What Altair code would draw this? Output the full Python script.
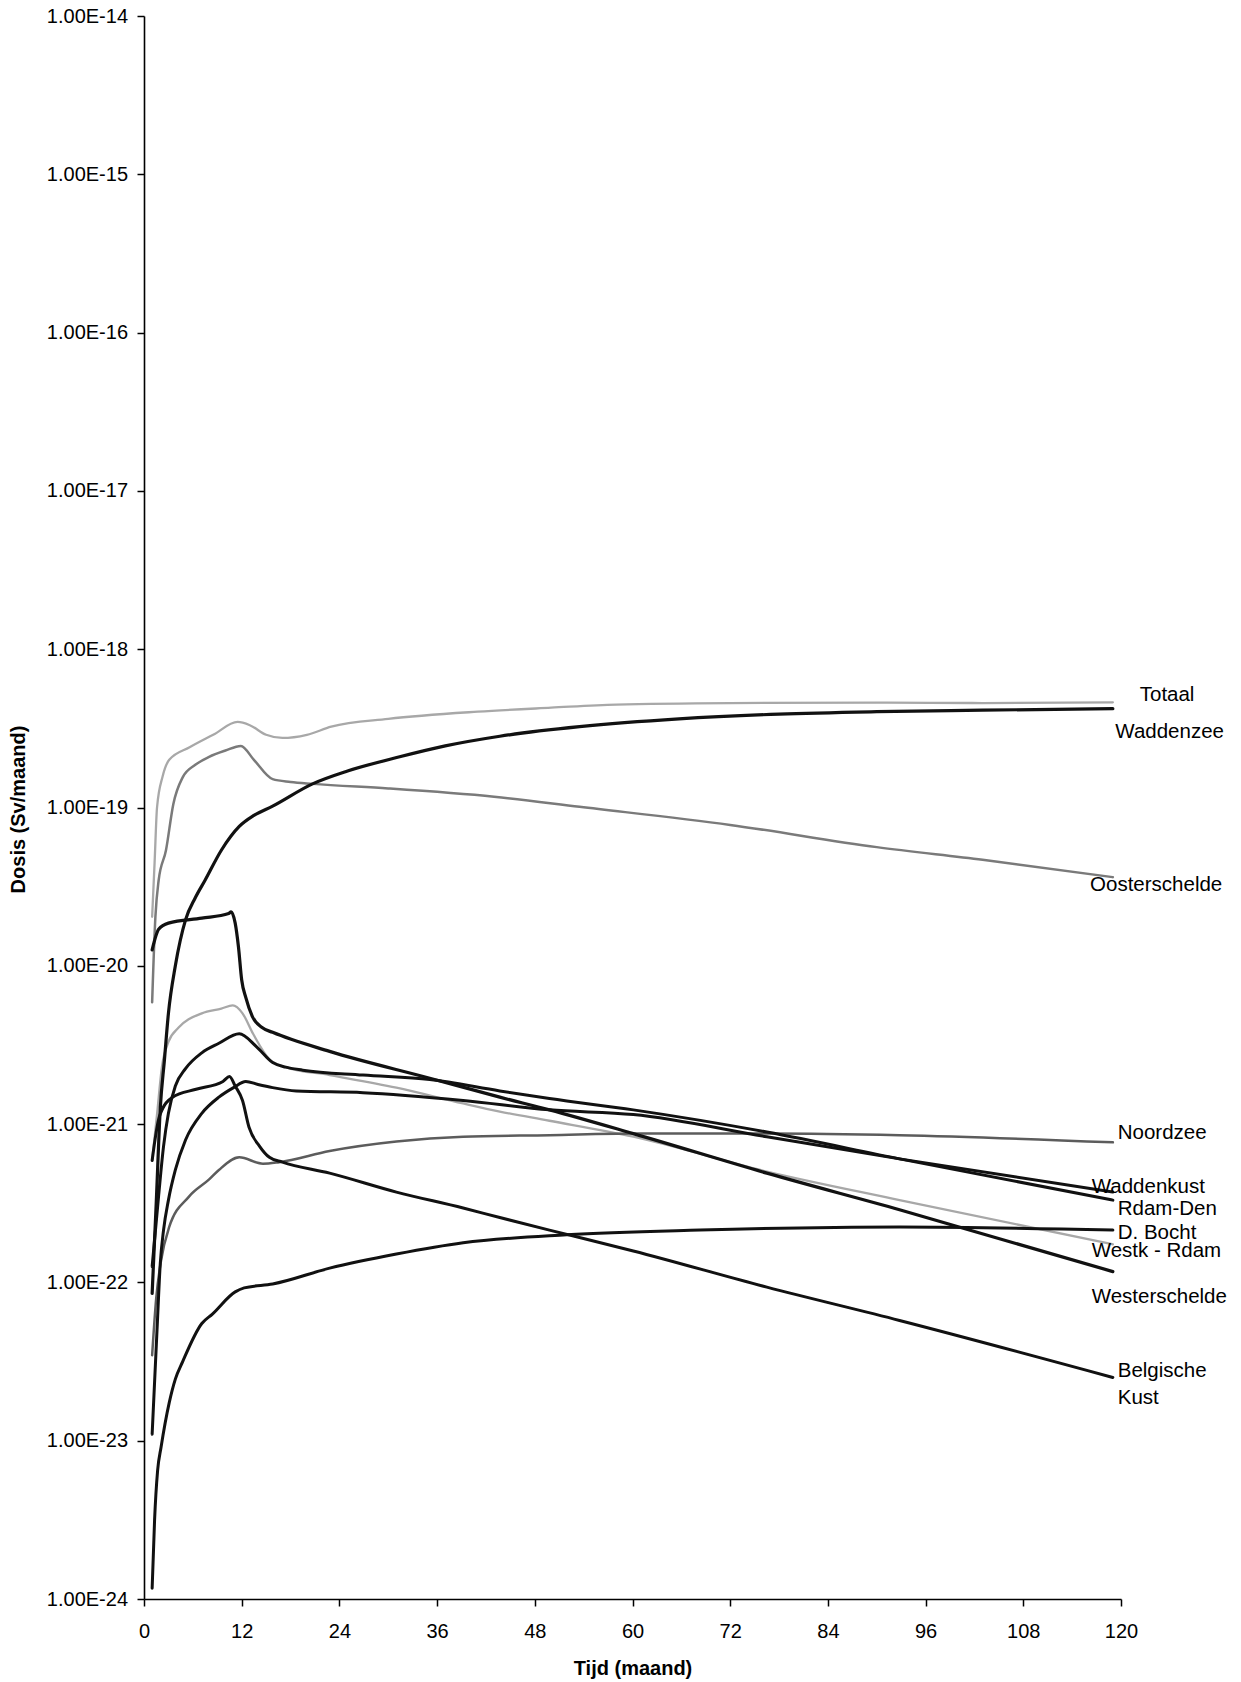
import altair as alt
import pandas as pd

# Dosis per gebied (Sv/maand) tegen de tijd in maanden
totaal_t = [1, 1.3, 1.6, 2.3, 3.1, 5.6, 8.5, 11.5, 13, 15, 17, 20, 23, 30, 41, 50, 58, 72, 90, 103, 119]
totaal_d = [2.04e-20, 4.47e-20, 1.00e-19, 1.58e-19, 2.00e-19, 2.40e-19, 2.88e-19, 3.47e-19, 3.31e-19,
            2.88e-19, 2.75e-19, 2.88e-19, 3.24e-19, 3.63e-19, 4.03e-19, 4.27e-19, 4.47e-19, 4.57e-19,
            4.60e-19, 4.57e-19, 4.62e-19]

waddenzee_t = [1, 1.5, 2.0, 2.5, 3.0, 3.85, 5.1, 6.3, 7.5, 9.5, 11.7, 13.5, 15.8, 20.7, 25, 31.4, 37,
               43.7, 53.5, 65.7, 78, 90, 103, 119]
waddenzee_d = [8.51e-23, 3.16e-22, 1.26e-21, 2.51e-21, 5.01e-21, 1.00e-20, 1.95e-20, 2.69e-20, 3.47e-20,
               5.37e-20, 7.59e-20, 8.91e-20, 1.02e-19, 1.41e-19, 1.70e-19, 2.09e-19, 2.45e-19, 2.82e-19,
               3.24e-19, 3.63e-19, 3.89e-19, 4.03e-19, 4.12e-19, 4.21e-19]

oosterschelde_t = [1, 1.4, 1.8, 2.7, 3.6, 4.75, 6.3, 8, 10, 11.9, 13.5, 15.8, 18, 20.7, 30, 43, 53.5,
                   72, 90, 103, 119]
oosterschelde_d = [5.89e-21, 2.04e-20, 3.47e-20, 5.37e-20, 1.05e-19, 1.55e-19, 1.86e-19, 2.09e-19,
                   2.29e-19, 2.45e-19, 2.00e-19, 1.51e-19, 1.45e-19, 1.41e-19, 1.32e-19, 1.17e-19,
                   1.01e-19, 7.76e-20, 5.62e-20, 4.68e-20, 3.63e-20]

noordzee_t = [1, 1.5, 2.1, 3.1, 5.5, 8.0, 9.2, 11.7, 14.6, 16.6, 22.8, 31, 39.2, 49.8, 60.1, 76.5, 92.8, 119]
noordzee_d = [3.47e-23, 7.94e-23, 1.38e-22, 2.24e-22, 3.47e-22, 4.47e-22, 5.13e-22, 6.17e-22, 5.62e-22,
              5.75e-22, 6.76e-22, 7.76e-22, 8.32e-22, 8.51e-22, 8.71e-22, 8.71e-22, 8.51e-22, 7.67e-22]

waddenkust_t = [1, 1.6, 2.0, 2.4, 3.0, 3.85, 5.1, 7.1, 9.2, 11, 12.5, 14, 15.8, 18.7, 26.9, 39.2, 49.8,
                60.1, 76.5, 92.8, 119]
waddenkust_d = [1.10e-23, 5.01e-23, 1.32e-22, 2.14e-22, 3.31e-22, 5.13e-22, 7.94e-22, 1.17e-21, 1.48e-21,
                1.70e-21, 1.86e-21, 1.78e-21, 1.70e-21, 1.62e-21, 1.58e-21, 1.41e-21, 1.23e-21,
                1.15e-21, 8.32e-22, 6.03e-22, 3.72e-22]

rdam_den_t = [1, 1.8, 2.4, 3.0, 3.85, 5.1, 7.1, 9.2, 11.7, 13.8, 15.8, 17.4, 19.5, 26.9, 35.1, 43.7, 49.8,
              60.1, 76.5, 92.8, 119]
rdam_den_d = [1.26e-22, 3.55e-22, 7.24e-22, 1.17e-21, 1.74e-21, 2.24e-21, 2.82e-21, 3.24e-21, 3.72e-21,
              3.09e-21, 2.45e-21, 2.29e-21, 2.19e-21, 2.04e-21, 1.91e-21, 1.62e-21, 1.45e-21,
              1.23e-21, 8.91e-22, 6.03e-22, 3.31e-22]

d_bocht_t = [1, 1.3, 1.67, 2.1, 3.1, 3.85, 4.75, 7.1, 8.4, 11.2, 12.3, 15.8, 22.8, 31, 39.2, 51.9, 68.3,
             92.8, 119]
d_bocht_d = [1.17e-24, 3.16e-24, 6.46e-24, 9.12e-24, 1.74e-23, 2.45e-23, 3.16e-23, 5.50e-23, 6.31e-23,
             8.71e-23, 9.23e-23, 9.77e-23, 1.23e-22, 1.51e-22, 1.78e-22, 2.00e-22, 2.14e-22, 2.24e-22,
             2.14e-22]

westk_rdam_t = [1, 1.6, 2.2, 3.0, 4.25, 7.1, 9.5, 10.9, 12.1, 13.4, 15.4, 17.4, 22.8, 31.0, 39.2, 43.7,
                49.8, 60.1, 76.5, 92.8, 119]
westk_rdam_d = [5.89e-22, 1.15e-21, 2.29e-21, 3.31e-21, 4.07e-21, 5.01e-21, 5.37e-21, 5.62e-21, 5.01e-21,
                3.72e-21, 2.57e-21, 2.29e-21, 2.04e-21, 1.70e-21, 1.35e-21, 1.20e-21, 1.05e-21,
                8.32e-22, 5.01e-22, 3.31e-22, 1.74e-22]

westerschelde_t = [1, 1.8, 3.0, 7.1, 10.4, 10.7, 11.2, 11.6, 12.0, 12.5, 13.3, 14.5, 15.8, 22.8, 35.1,
                   43.7, 49.8, 60.1, 76.5, 92.8, 119]
westerschelde_d = [1.26e-20, 1.70e-20, 1.86e-20, 2.00e-20, 2.14e-20, 2.19e-20, 1.86e-20, 1.32e-20,
                   8.13e-21, 6.31e-21, 4.79e-21, 4.07e-21, 3.80e-21, 2.88e-21, 1.95e-21, 1.48e-21,
                   1.23e-21, 8.71e-22, 4.90e-22, 2.88e-22, 1.17e-22]

belgische_kust_t = [1, 1.9, 3.5, 6.4, 9.7, 10.5, 11.2, 12.1, 12.9, 14.2, 15.4, 17.0, 22.8, 31.0, 39.2,
                    43.7, 49.8, 60.1, 76.5, 92.8, 119]
belgische_kust_d = [5.89e-22, 1.12e-21, 1.48e-21, 1.66e-21, 1.86e-21, 2.00e-21, 1.74e-21, 1.41e-21,
                    9.55e-22, 7.24e-22, 6.17e-22, 5.75e-22, 4.90e-22, 3.72e-22, 2.95e-22, 2.57e-22,
                    2.14e-22, 1.58e-22, 9.33e-23, 5.75e-23, 2.51e-23]

# Naamlabels rechts van de lijnen (positie in maanden / Sv per maand)
label_text = ["Totaal", "Waddenzee", "Oosterschelde", "Noordzee", "Waddenkust", "Rdam-Den",
              "D. Bocht", "Westk - Rdam", "Westerschelde", "Belgische", "Kust"]
label_maand = [122.3, 119.3, 116.2, 119.6, 116.4, 119.6, 119.6, 116.4, 116.4, 119.6, 119.6]
label_dosis = [5.14e-19, 3.02e-19, 3.24e-20, 8.79e-22, 4.03e-22, 2.91e-22, 2.06e-22, 1.58e-22,
               8.13e-23, 2.75e-23, 1.86e-23]

x_ticks = [0, 12, 24, 36, 48, 60, 72, 84, 96, 108, 120]
y_ticks = [1e-24, 1e-23, 1e-22, 1e-21, 1e-20, 1e-19, 1e-18, 1e-17, 1e-16, 1e-15, 1e-14]

# (naam, tijden, doses, lijnkleur, lijndikte) - grijze lijnen eerst, zwarte erover
series = [
    ("Totaal", totaal_t, totaal_d, "#a8a8a8", 2.3),
    ("Westk - Rdam", westk_rdam_t, westk_rdam_d, "#a8a8a8", 2.3),
    ("Oosterschelde", oosterschelde_t, oosterschelde_d, "#7a7a7a", 2.5),
    ("Noordzee", noordzee_t, noordzee_d, "#5c5c5c", 2.5),
    ("Waddenzee", waddenzee_t, waddenzee_d, "#111111", 3.2),
    ("Westerschelde", westerschelde_t, westerschelde_d, "#111111", 3.2),
    ("Rdam-Den", rdam_den_t, rdam_den_d, "#111111", 3.0),
    ("Waddenkust", waddenkust_t, waddenkust_d, "#111111", 3.0),
    ("D. Bocht", d_bocht_t, d_bocht_d, "#111111", 3.0),
    ("Belgische Kust", belgische_kust_t, belgische_kust_d, "#111111", 3.0),
]

rows = []
for name, ts, ds, _, _ in series:
    rows += [{"serie": name, "maand": t, "dosis": d} for t, d in zip(ts, ds)]
df = pd.DataFrame(rows)

labels_df = pd.DataFrame({"label": label_text, "maand": label_maand, "dosis": label_dosis})

FONT = "Liberation Sans"

x_scale = alt.Scale(domain=[0, 120], nice=False, zero=False)
y_scale = alt.Scale(type="log", domain=[1e-24, 1e-14], nice=False)

x_axis = alt.Axis(values=x_ticks, title="Tijd (maand)", labelPadding=15, tickSize=7,
                  labelFlush=False, titleY=69, titleBaseline="middle", grid=False)
y_axis = alt.Axis(values=y_ticks, title="Dosis (Sv/maand)",
                  labelExpr="upper(format(datum.value, '.2e'))",
                  labelPadding=9.5, tickSize=7, labelFlush=False,
                  titleX=-126, titleY=793, titleBaseline="middle", grid=False)

x_enc = alt.X("maand:Q", scale=x_scale, axis=x_axis)
y_enc = alt.Y("dosis:Q", scale=y_scale, axis=y_axis)

layers = []
for name, _, _, color, width in series:
    layers.append(
        alt.Chart(df)
        .transform_filter(alt.datum.serie == name)
        .mark_line(color=color, strokeWidth=width, strokeJoin="round", strokeCap="round",
                   interpolate="monotone")
        .encode(x=x_enc, y=y_enc, order="maand:Q")
    )

text_layer = alt.Chart(labels_df).mark_text(
    align="left", baseline="middle", font=FONT, fontSize=20.5, color="black"
).encode(x=x_enc, y=y_enc, text="label:N")

chart = (
    alt.layer(*layers, text_layer)
    .properties(
        width=977,
        height=1583,
        padding={"left": 144, "top": 16, "right": 120, "bottom": 83},
        autosize=alt.AutoSizeParams(type="none"),
        background="white",
    )
    .configure_view(stroke=None)
    .configure_axis(
        domainColor="black",
        domainWidth=1.6,
        tickColor="black",
        tickWidth=1.5,
        labelColor="black",
        labelFont=FONT,
        labelFontSize=20,
        titleFont=FONT,
        titleFontSize=20,
        titleFontWeight="bold",
        titleColor="black",
    )
)

chart.save("out.html", embed_options={"renderer": "svg", "actions": False})
